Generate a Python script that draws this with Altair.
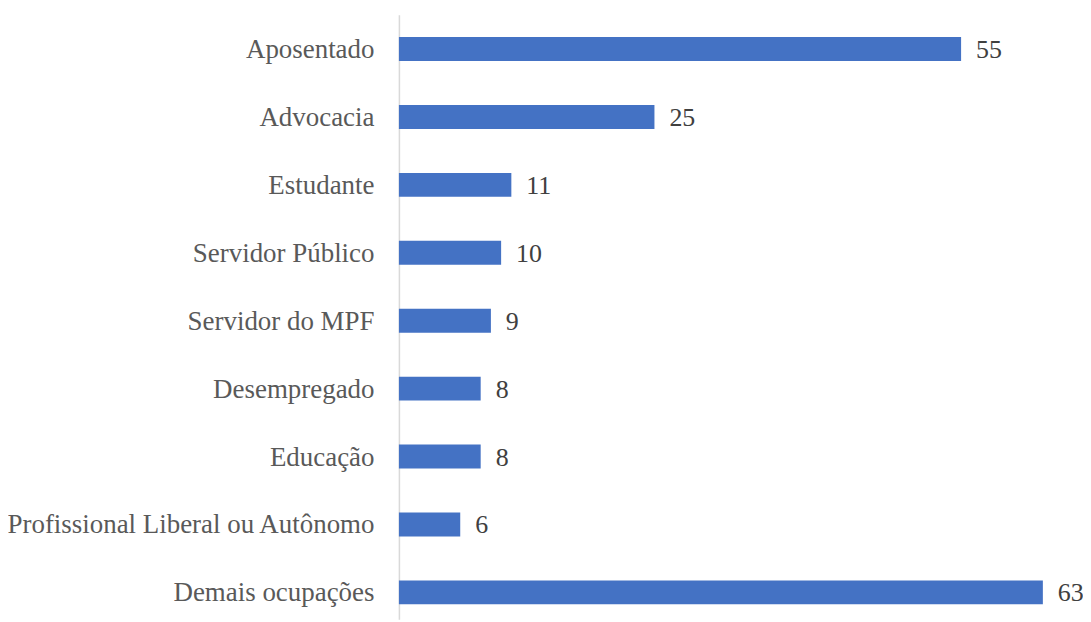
import altair as alt
import pandas as pd

categorias = ["Aposentado", "Advocacia", "Estudante", "Servidor Público", "Servidor do MPF",
              "Desempregado", "Educação", "Profissional Liberal ou Autônomo", "Demais ocupações"]
valores = [55, 25, 11, 10, 9, 8, 8, 6, 63]

df = pd.DataFrame({"cat": categorias, "val": valores})

FONT = "Liberation Serif"
W, H = 656, 606

y = alt.Y("cat:N", sort=categorias, title=None,
          scale=alt.Scale(paddingInner=0.648, paddingOuter=0.273, align=0.6),
          axis=alt.Axis(ticks=False, labelPadding=25, labelFont=FONT, labelFontSize=27,
                        labelColor="#595959", domainColor="#D9D9D9", domainWidth=1.5,
                        labelLimit=500, labelOffset=1))
x = alt.X("val:Q", title=None, scale=alt.Scale(domain=[0, 64], nice=False),
          axis=None)

bars = alt.Chart(df).mark_bar(color="#4472C4").encode(x=x, y=y)
text = alt.Chart(df).mark_text(align="left", baseline="middle", dx=15, dy=1, font=FONT,
                               fontSize=26, color="#404040").encode(
    x=x, y=alt.Y("cat:N", sort=categorias), text="val:Q")

chart = (bars + text).properties(
    width=W, height=H,
    autosize=alt.AutoSizeParams(type="none"),
    padding={"left": 392, "top": 6, "right": 30, "bottom": 0},
).configure_view(stroke=None)

chart.save("out.html", embed_options={"renderer": "svg", "actions": False})
